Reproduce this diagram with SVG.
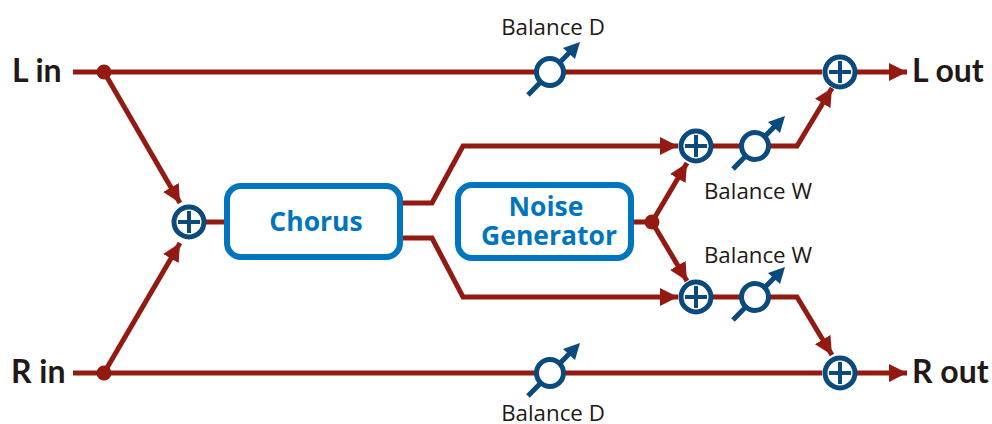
<svg xmlns="http://www.w3.org/2000/svg" width="992" height="424" viewBox="0 0 992 424">
<style>
.w{fill:none;stroke:#921a12;stroke-width:5;stroke-linejoin:miter}
.d{fill:#921a12}
.box{fill:#fff;stroke:#0075bf;stroke-width:6}
.bt{font:700 26.5px "Open Sans","Noto Sans",sans-serif;fill:#0075bf;text-anchor:middle}
.io{font:700 32px Lato,"Open Sans",sans-serif;fill:#231815}
.lb{font:400 22.3px "Open Sans","Noto Sans",sans-serif;fill:#231815;text-anchor:middle}
.r{fill:#fff;stroke:#0a4a7c;stroke-width:5}
.k{fill:none;stroke:#0a4a7c;stroke-width:5}
.p{fill:none;stroke:#0a4a7c;stroke-width:4}
.kh{fill:#0a4a7c}
</style>
<defs>
<marker id="a" markerUnits="userSpaceOnUse" markerWidth="22" markerHeight="22" refX="18" refY="10" orient="auto"><path d="M0 1L18 10L0 19z" fill="#921a12"/></marker>
<g id="sum"><circle r="15" class="r"/><path d="M-11 0H11M0-11V11" class="p"/></g>
<g id="knob"><path d="M-22 23L20-20" class="k"/><path d="M30-30L13-24L25-13z" class="kh"/><circle r="13.5" class="r"/></g>
</defs>
<g id="connectors">
<path class="w" d="M73 72H822"/>
<path class="w" d="M856 72H907" marker-end="url(#a)"/>
<path class="w" d="M73 373H822"/>
<path class="w" d="M856 373H907" marker-end="url(#a)"/>
<path class="w" d="M104 72L180 203" marker-end="url(#a)"/>
<path class="w" d="M104 373L180 243" marker-end="url(#a)"/>
<path class="w" d="M205 222H224"/>
<path class="w" d="M403 203H432L463 146H678" marker-end="url(#a)"/>
<path class="w" d="M403 238H432L463 297H678" marker-end="url(#a)"/>
<path class="w" d="M634 222H652L687 163" marker-end="url(#a)"/>
<path class="w" d="M652 222L687 281" marker-end="url(#a)"/>
<path class="w" d="M712 146H797L832 88" marker-end="url(#a)"/>
<path class="w" d="M712 297H797L832 355" marker-end="url(#a)"/>
</g>
<g id="junctions">
<circle class="d" cx="104" cy="72" r="7.5"/>
<circle class="d" cx="104" cy="373" r="7.5"/>
<circle class="d" cx="652" cy="222" r="7.5"/>
</g>
<g id="chorus"><rect class="box" x="227" y="186" width="173" height="71" rx="14"/><text class="bt" x="316" y="231">Chorus</text></g>
<g id="noise"><rect class="box" x="458" y="185" width="173" height="73" rx="14"/><text class="bt" x="546" y="216">Noise</text><text class="bt" x="549" y="245">Generator</text></g>
<use id="sum-in" href="#sum" x="189" y="222"/>
<use id="sum-up" href="#sum" x="696" y="146"/>
<use id="sum-low" href="#sum" x="696" y="297"/>
<use id="sum-l" href="#sum" x="840" y="72"/>
<use id="sum-r" href="#sum" x="840" y="373"/>
<use id="knob-dl" href="#knob" x="550" y="72"/>
<use id="knob-dr" href="#knob" x="550" y="373"/>
<use id="knob-wl" href="#knob" x="755" y="146"/>
<use id="knob-wr" href="#knob" x="755" y="297"/>
<g id="labels">
<text class="io" x="12" y="82">L in</text>
<text class="io" x="11" y="383">R in</text>
<text class="io" x="912" y="82">L out</text>
<text class="io" x="912" y="383">R out</text>
<text class="lb" x="553" y="35">Balance D</text>
<text class="lb" x="553" y="421">Balance D</text>
<text class="lb" x="758" y="199">Balance W</text>
<text class="lb" x="758" y="263">Balance W</text>
</g>
</svg>
